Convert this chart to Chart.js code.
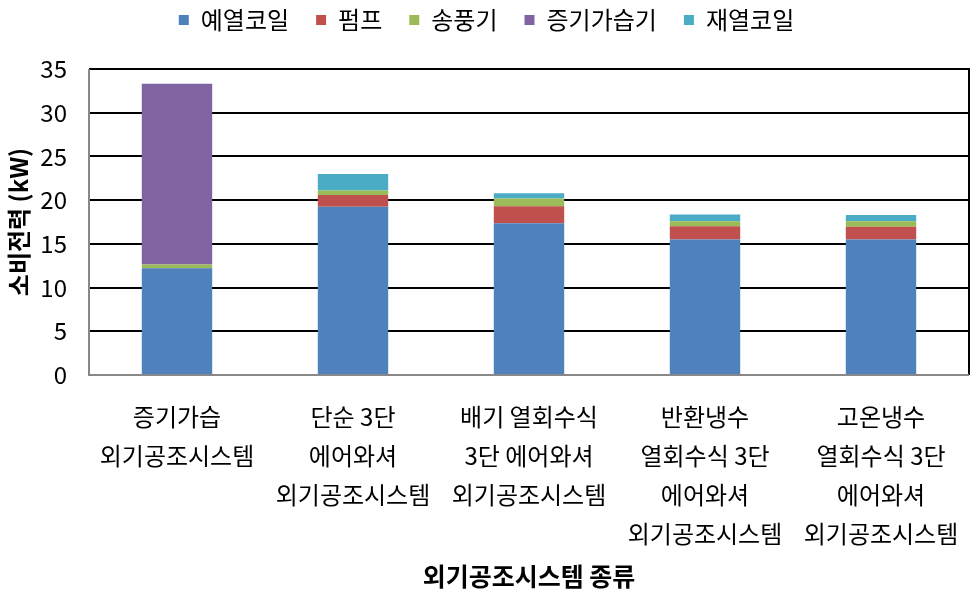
<!DOCTYPE html>
<html>
<head>
<meta charset="utf-8">
<script src="https://cdn.jsdelivr.net/npm/chart.js@4/dist/chart.umd.min.js"></script>
<style>
  html, body { margin: 0; padding: 0; background: #fff; }
  #wrap { width: 975px; height: 599px; }
</style>
</head>
<body>
<div id="wrap"><canvas id="chart" width="975" height="599"></canvas></div>
<script>
// 카테고리 (여러 줄 라벨)
const categories = [
  ['증기가습', '외기공조시스템'],
  ['단순 3단', '에어와셔', '외기공조시스템'],
  ['배기 열회수식', '3단 에어와셔', '외기공조시스템'],
  ['반환냉수', '열회수식 3단', '에어와셔', '외기공조시스템'],
  ['고온냉수', '열회수식 3단', '에어와셔', '외기공조시스템']
];

// 시리즈 값 (kW)
const preheatCoil = [12.2, 19.25, 17.35, 15.5, 15.5];
const pump        = [0.05, 1.35, 1.95, 1.5, 1.45];
const fan         = [0.4, 0.5, 0.9, 0.6, 0.65];
const humidifier  = [20.65, 0, 0, 0, 0];
const reheatCoil  = [0, 1.9, 0.6, 0.75, 0.7];

const yTicks = [0, 5, 10, 15, 20, 25, 30, 35];

const FONT = "'Noto Sans CJK KR', 'Noto Sans', sans-serif";

// 플롯 영역 위치 (px)
const AREA = { left: 89, top: 69, right: 969, bottom: 375 };
const PAD = { left: 4, top: 0, right: 975 - AREA.right, bottom: 6 };

// 범례 높이/위치 조정
const legendFix = {
  id: 'legendFix',
  beforeLayout(chart) {
    const lg = chart.legend;
    if (lg && !lg._fixed) {
      const fit = lg.fit;
      lg.fit = function () {
        fit.call(this);
        this.height = AREA.top - PAD.top;
      };
      lg._fixed = true;
    }
  },
  afterLayout(chart) {
    if (chart.legend) chart.legend.top = -19;
  }
};

// 플롯 영역 테두리
const frame = {
  id: 'frame',
  afterDraw(chart) {
    const { ctx, chartArea: a } = chart;
    ctx.save();
    ctx.strokeStyle = '#000';
    ctx.lineWidth = 2;
    ctx.beginPath();
    ctx.moveTo(a.left, a.top);
    ctx.lineTo(a.right, a.top);
    ctx.lineTo(a.right, a.bottom);
    ctx.stroke();
    ctx.strokeStyle = '#888';
    ctx.beginPath();
    ctx.moveTo(a.left, a.top);
    ctx.lineTo(a.left, a.bottom);
    ctx.lineTo(a.right, a.bottom);
    ctx.stroke();
    ctx.restore();
  }
};

function ds(label, data, color) {
  return {
    label, data,
    backgroundColor: color,
    borderWidth: 0,
    barPercentage: 0.4,
    categoryPercentage: 1
  };
}

new Chart(document.getElementById('chart'), {
  type: 'bar',
  data: {
    labels: categories,
    datasets: [
      ds('예열코일', preheatCoil, '#4F81BD'),
      ds('펌프', pump, '#C0504D'),
      ds('송풍기', fan, '#9BBB59'),
      ds('증기가습기', humidifier, '#8064A2'),
      ds('재열코일', reheatCoil, '#4BACC6')
    ]
  },
  options: {
    responsive: false,
    animation: false,
    layout: { padding: PAD },
    plugins: {
      legend: {
        position: 'top',
        labels: {
          boxWidth: 10, boxHeight: 10,
          color: '#000',
          padding: 27,
          font: { family: FONT, size: 24 }
        }
      },
      tooltip: { enabled: false }
    },
    scales: {
      x: {
        stacked: true,
        afterFit(scale) { scale.height = 599 - AREA.bottom - PAD.bottom; },
        grid: { display: false },
        border: { display: false },
        ticks: {
          color: '#000',
          padding: 14,
          maxRotation: 0,
          autoSkip: false,
          font: { family: FONT, size: 24, lineHeight: 1.625 }
        },
        title: {
          display: true,
          text: '외기공조시스템 종류',
          color: '#000',
          padding: { top: 4, bottom: 2 },
          font: { family: FONT, size: 25, weight: 'bold' }
        }
      },
      y: {
        stacked: true,
        min: 0, max: 35,
        afterBuildTicks(scale) { scale.ticks = yTicks.map(v => ({ value: v })); },
        afterFit(scale) { scale.width = AREA.left - PAD.left; },
        grid: { color: '#000', lineWidth: 2, drawTicks: false },
        border: { display: false },
        ticks: {
          color: '#000',
          padding: 22,
          font: { family: FONT, size: 24 }
        },
        title: {
          display: true,
          text: '소비전력 (kW)',
          color: '#000',
          padding: { top: 0, bottom: 4 },
          font: { family: FONT, size: 24, weight: 'bold' }
        }
      }
    }
  },
  plugins: [legendFix, frame]
});
</script>
</body>
</html>
